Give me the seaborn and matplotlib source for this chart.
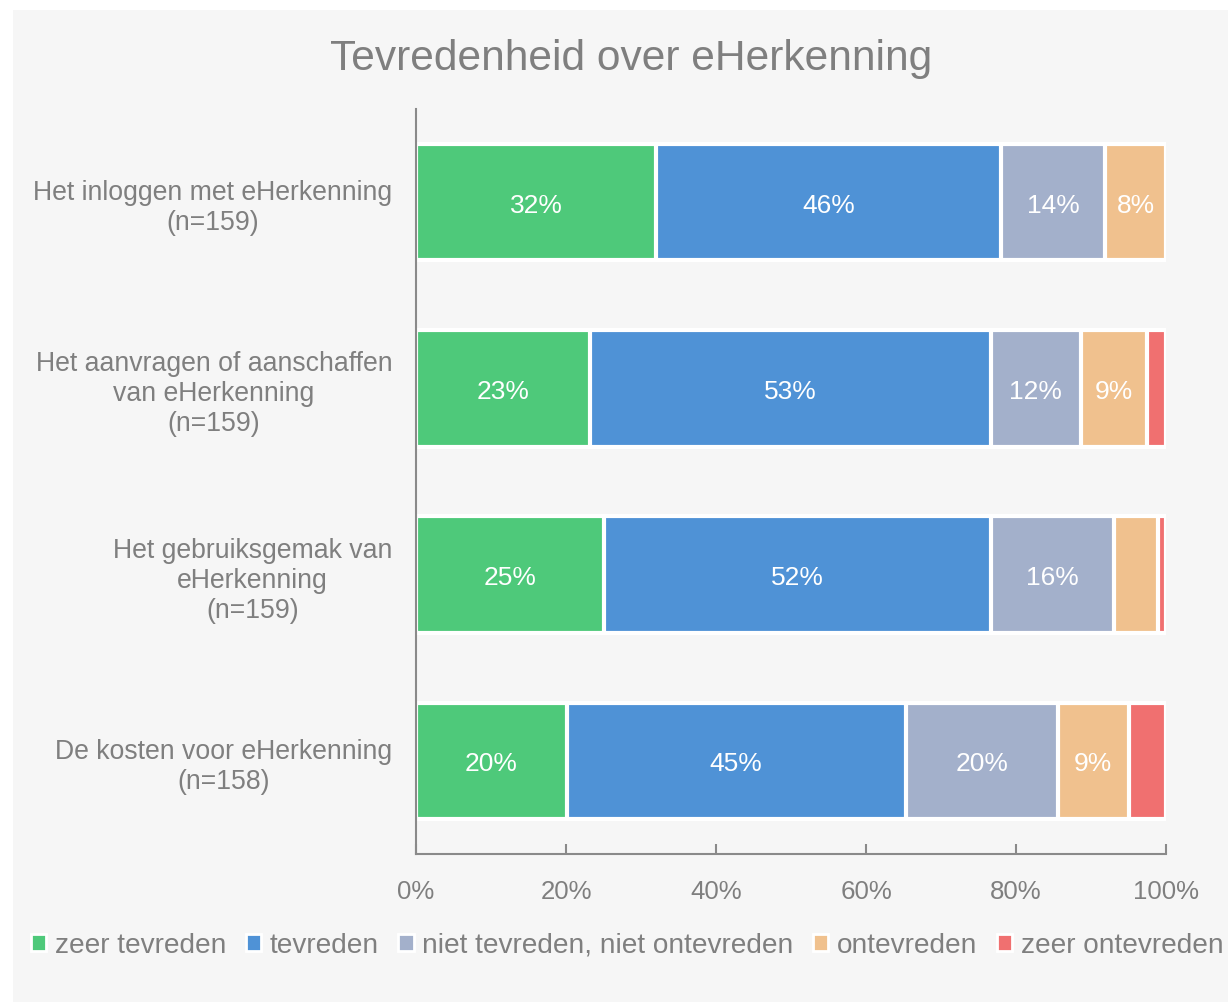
import numpy as np
import pandas as pd
import matplotlib
matplotlib.use("Agg")
import matplotlib.pyplot as plt
from matplotlib.patches import Patch, Rectangle
import seaborn as sns

categories = [
    "Het inloggen met eHerkenning\n(n=159)",
    "Het aanvragen of aanschaffen\nvan eHerkenning\n(n=159)",
    "Het gebruiksgemak van\neHerkenning\n(n=159)",
    "De kosten voor eHerkenning\n(n=158)",
]
series_names = ["zeer tevreden", "tevreden", "niet tevreden, niet ontevreden",
                "ontevreden", "zeer ontevreden"]
zeer_tevreden = [32.0, 23.2, 25.1, 20.1]
tevreden = [46.0, 53.4, 51.6, 45.2]
neutraal = [13.9, 12.1, 16.4, 20.3]
ontevreden = [8.1, 8.8, 5.8, 9.4]
zeer_ontevreden = [0.0, 2.5, 1.1, 5.0]
colors = ["#4ec97a", "#4f92d6", "#a3b0cb", "#f0c18e", "#f07070"]
xticks = [0, 20, 40, 60, 80, 100]
xtick_labels = ["0%", "20%", "40%", "60%", "80%", "100%"]
title = "Tevredenheid over eHerkenning"

series = [zeer_tevreden, tevreden, neutraal, ontevreden, zeer_ontevreden]

sns.set_theme(style="white")
plt.rcParams["font.family"] = ["Liberation Sans", "DejaVu Sans"]
text_col = "#7f7f7f"
axis_col = "#8a8a8a"

fig = plt.figure(figsize=(12.28, 10.03), dpi=100, facecolor="white")
fig.patches.append(Rectangle((13 / 1228, 0), 1 - 13 / 1228, 1 - 11 / 1003,
                             transform=fig.transFigure, facecolor="#f6f6f6",
                             edgecolor="none", zorder=-10))
ax = fig.add_axes([416 / 1228, 1 - 855 / 1003, 750 / 1228, 745 / 1003])
ax.set_facecolor("none")

rows = []
for name, vals in zip(series_names, series):
    for cat, v in zip(categories, vals):
        rows.append({"cat": cat, "serie": name, "val": v})
df = pd.DataFrame(rows)
df["cum"] = df.groupby("cat")["val"].cumsum()

# draw cumulative bars from the last series backwards (stacking)
for name, col in reversed(list(zip(series_names, colors))):
    sub = df[df["serie"] == name]
    sns.barplot(data=sub, x="cum", y="cat", order=categories, color=col,
                orient="h", width=0.625, edgecolor="white", linewidth=3,
                ax=ax, saturation=1)

# value labels
for name in series_names:
    sub = df[df["serie"] == name]
    for i, cat in enumerate(categories):
        r = sub[sub["cat"] == cat].iloc[0]
        if r["val"] >= 7.5:
            ax.text(r["cum"] - r["val"] / 2, i, f"{round(r['val'])}%",
                    ha="center", va="center_baseline", color="white", fontsize=19)

ax.set_xlim(0, 100)
ax.set_ylim(3.5, -0.5)
ax.set_xticks(xticks)
ax.set_xticklabels(xtick_labels, color=text_col, fontsize=18.6)
ax.set_yticks(range(len(categories)))
ax.set_yticklabels(categories, color=text_col, fontsize=19.2,
                   multialignment="center", va="center_baseline")
ax.tick_params(axis="x", direction="in", length=7, width=1.5,
               color=axis_col, pad=18, bottom=True)
ax.tick_params(axis="y", length=0, pad=17)
ax.set_xlabel("")
ax.set_ylabel("")
for s in ["top", "right"]:
    ax.spines[s].set_visible(False)
for s in ["left", "bottom"]:
    ax.spines[s].set_color(axis_col)
    ax.spines[s].set_linewidth(1.5)

fig.text(631 / 1228, 1 - 59 / 1003, title, ha="center", va="center",
         color=text_col, fontsize=30.6)

handles = [Patch(facecolor=c, edgecolor="white", linewidth=2) for c in colors]
fig.legend(handles, series_names, loc="center", bbox_to_anchor=(627 / 1228, 1 - 946 / 1003),
           ncol=5, frameon=False, fontsize=20.2, labelcolor=text_col,
           handlelength=0.55, handleheight=0.55, handletextpad=0.3,
           columnspacing=0.7, borderaxespad=0)

fig.savefig("out.png", dpi=100, facecolor="white")
